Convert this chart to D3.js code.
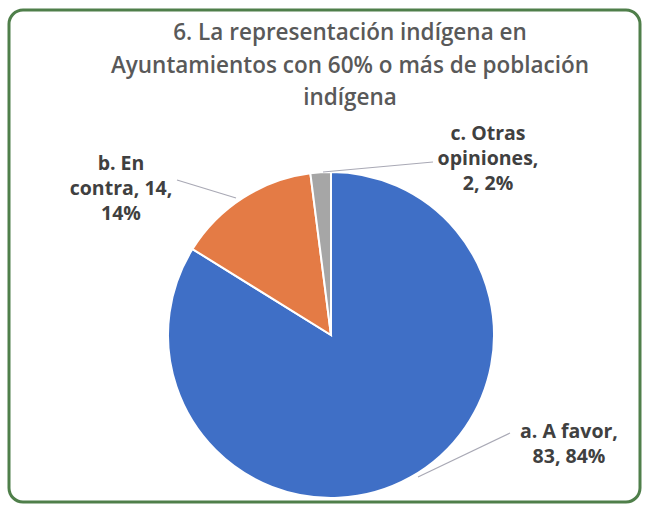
<!DOCTYPE html>
<html>
<head>
<meta charset="utf-8">
<script src="https://cdn.jsdelivr.net/npm/d3@7"></script>
<style>
  body { margin: 0; background: #fff; }
  svg { display: block; }
</style>
</head>
<body>
<svg></svg>
<script>
// data
const categories = ["a. A favor", "b. En contra", "c. Otras opiniones"];
const counts = [83, 14, 2];
const colors = ["#3f6fc6", "#e47b45", "#a6a6a6"];
const titleLines = ["6. La representación indígena en", "Ayuntamientos con 60% o más de población", "indígena"];
// label text lines per slice
const labelLines = [
    ["a. A favor,", "83, 84%"],
    ["b. En", "contra, 14,", "14%"],
    ["c. Otras", "opiniones,", "2, 2%"]
];

const width = 647, height = 507;
const svg = d3.select("svg").attr("width", width).attr("height", height);

// frame
svg.append("rect")
    .attr("x", 9).attr("y", 10)
    .attr("width", 631).attr("height", 492)
    .attr("rx", 14)
    .attr("fill", "#fff")
    .attr("stroke", "#4f7f4a")
    .attr("stroke-width", 3);

// title
svg.append("text")
    .attr("text-anchor", "middle")
    .attr("font-family", "'Open Sans', sans-serif")
    .attr("font-size", 22.5)
    .attr("font-weight", 600)
    .attr("fill", "#595959")
    .selectAll("tspan")
    .data(titleLines)
    .enter()
    .append("tspan")
    .attr("x", 350)
    .attr("y", (d, i) => 40 + i * 32.5)
    .text(d => d);

// pie
const cx = 331, cy = 335, r = 163;
const pie = d3.pie().sort(null).value(d => d);
const arcs = pie(counts);
const arc = d3.arc().innerRadius(0).outerRadius(r);
const total = d3.sum(counts);

const g = svg.append("g").attr("transform", `translate(${cx},${cy})`);
g.selectAll("path")
    .data(arcs)
    .enter()
    .append("path")
    .attr("d", arc)
    .attr("fill", (d, i) => colors[i])
    .attr("stroke", "#fff")
    .attr("stroke-width", 2);

// label anchor (centre x, first baseline, relative to pie centre) and leader start/end
const labelPos = [
    { x: 238, y: 103, line: [[87, 142], [179, 98]] },
    { x: -210, y: -165, line: [[-95, -137], [-154, -155]] },
    { x: 157, y: -195, line: [[-8, -163], [102, -173]] }
];

svg.append("g")
    .selectAll("polyline")
    .data(labelPos)
    .enter()
    .append("polyline")
    .attr("points", d => d.line.map(p => [cx + p[0], cy + p[1]].join(",")).join(" "))
    .attr("fill", "none")
    .attr("stroke", "#a9a9b5")
    .attr("stroke-width", 1.2);

const labels = svg.append("g")
    .attr("font-family", "'Open Sans', sans-serif")
    .attr("font-size", 19.5)
    .attr("font-weight", "bold")
    .attr("fill", "#404040")
    .attr("text-anchor", "middle");

labels.selectAll("text")
    .data(arcs)
    .enter()
    .append("text")
    .each(function(d, i) {
        const lines = labelLines[i].slice();
        // percentage from the counts
        const pct = Math.round(d.value / total * 100);
        lines[lines.length - 1] = lines[lines.length - 1].replace(/\d+%/, pct + "%");
        const lh = 25;
        d3.select(this).selectAll("tspan")
            .data(lines)
            .enter()
            .append("tspan")
            .attr("x", cx + labelPos[i].x)
            .attr("y", (t, k) => cy + labelPos[i].y + k * lh)
            .text(t => t);
    });
</script>
</body>
</html>
